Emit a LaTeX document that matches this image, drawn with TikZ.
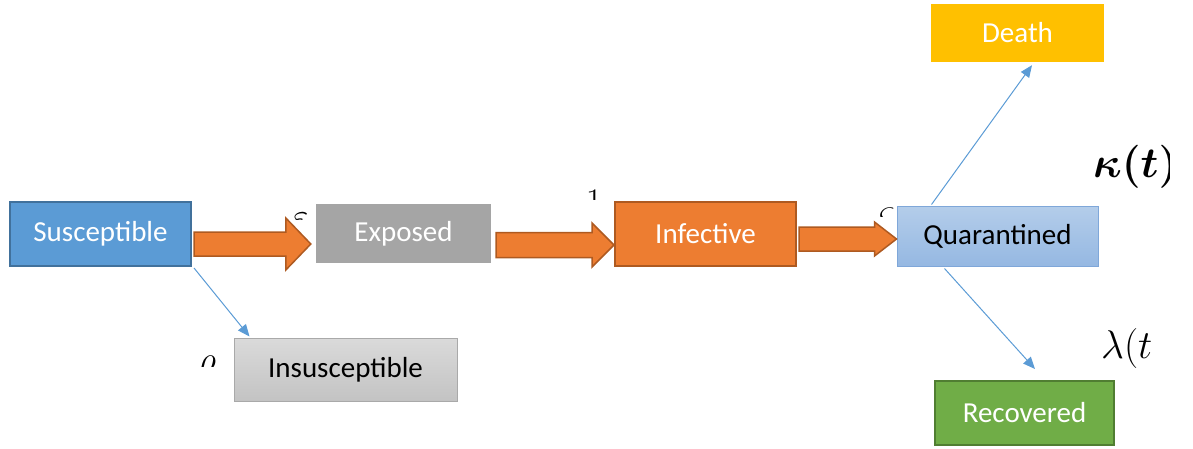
\RequirePackage{fix-cm}
\documentclass[tikz,border=0pt]{standalone}
\usepackage{fontspec}
\setmainfont{Carlito}
\usepackage{bm}
\usetikzlibrary{arrows.meta,calc}
\definecolor{sblue}{HTML}{5B9BD5}
\definecolor{sbluedk}{HTML}{41719C}
\definecolor{egray}{HTML}{A5A5A5}
\definecolor{iorange}{HTML}{ED7D31}
\definecolor{iorangedk}{HTML}{AE5A21}
\definecolor{qtop}{HTML}{B4CDEA}
\definecolor{qbot}{HTML}{95B8E2}
\definecolor{qborder}{HTML}{7FA7D9}
\definecolor{dgold}{HTML}{FFC000}
\definecolor{ntop}{HTML}{DADADA}
\definecolor{nbot}{HTML}{C3C3C3}
\definecolor{nborder}{HTML}{A9A9A9}
\definecolor{rgreen}{HTML}{70AD47}
\definecolor{rgreendk}{HTML}{507E32}
\tikzset{
  box/.style={rectangle, inner sep=0pt, font=\fontsize{29}{33}\selectfont, text=white},
  linkarrow/.style={draw=sblue, line width=1pt, -{Triangle[length=12pt,width=10pt]}},
  blockarrow/.style={fill=iorange, draw=iorangedk, line width=1.5pt, line join=miter},
  frag/.style={inner sep=0pt, font=\fontsize{36}{36}\selectfont},
}
\newcommand\barrow[8]{% from, to, start gap, tip gap, centre offset, shaft half, head half, head length
  \draw[blockarrow] let \p1=(#1.east), \p2=(#2.west) in
    ({\x1+#3},{\y1+(#5)+#6}) -- ({\x2-(#4)-#8},{\y1+(#5)+#6}) -- ({\x2-(#4)-#8},{\y1+(#5)+#7})
    -- ({\x2-(#4)},{\y1+(#5)}) -- ({\x2-(#4)-#8},{\y1+(#5)-#7}) -- ({\x2-(#4)-#8},{\y1+(#5)-#6})
    -- ({\x1+#3},{\y1+(#5)-#6}) -- cycle;}
\begin{document}
\begin{tikzpicture}[x=1pt,y=-1pt]
\useasboundingbox (0,0) rectangle (1193,449);
% boxes
\node[box, fill=sblue, draw=sbluedk, line width=2pt, minimum width=181pt, minimum height=64pt] (S) at (100.5,234) {Susceptible};
\node[box, fill=egray, minimum width=175pt, minimum height=59pt] (E) at (403.5,233.5) {Exposed};
\node[box, fill=iorange, draw=iorangedk, line width=2pt, minimum width=181pt, minimum height=64pt] (I) at (705.5,234) {Infective};
\node[box, top color=qtop, bottom color=qbot, draw=qborder, line width=1pt, text=black, minimum width=201pt, minimum height=60pt] (Q) at (997.5,236) {Quarantined};
\node[box, fill=dgold, minimum width=173pt, minimum height=58pt] (D) at (1017.5,33) {Death};
\node[box, top color=ntop, bottom color=nbot, draw=nborder, line width=1pt, text=black, minimum width=223pt, minimum height=63pt] (N) at (345.5,369.5) {Insusceptible};
\node[box, fill=rgreen, draw=rgreendk, line width=2pt, minimum width=179pt, minimum height=64pt] (R) at (1024.5,413) {Recovered};
% block arrows
\barrow{S}{E}{2pt}{5pt}{-10pt}{12pt}{26pt}{25pt}
\barrow{E}{I}{5pt}{0pt}{-11.5pt}{12.5pt}{22pt}{22pt}
\barrow{I}{Q}{2pt}{0pt}{-5pt}{12pt}{17pt}{22pt}
% thin arrows
\draw[linkarrow] ($(S.south east)+(2,1)$) -- ($(N.north west)+(16,-1)$);
\draw[linkarrow] ($(Q.north west)+(35,-1)$) -- ($(D.south)+(14.5,3)$);
\draw[linkarrow] ($(Q.south west)+(48,2)$) -- ($(R.north)+(10.5,-11)$);
% clipped rate labels
\begin{scope}
  \clip (285,200) rectangle (312,219);
  \node[frag] (f1) at (300,221) {$\varepsilon$};
\end{scope}
\begin{scope}
  \clip (582,180) rectangle (605,199);
  \node[frag] (f2) at (594,202) {$1$};
\end{scope}
\begin{scope}
  \clip (876,198) rectangle (895,216);
  \node[frag] (f3) at (887,217) {$\varsigma$};
\end{scope}
\begin{scope}
  \clip (193,350) rectangle (220,366);
  \node[frag] (f4) at (207,367) {$\rho$};
\end{scope}
\begin{scope}
  \clip (1085,140) rectangle (1169,200);
  \node[inner sep=0pt, anchor=base west, font=\fontsize{43}{43}\selectfont] (kappa) at (1093,178) {$\bm{\kappa(t)}$};
\end{scope}
\begin{scope}
  \clip (1090,320) rectangle (1152,375);
  \node[inner sep=0pt, anchor=base west, font=\fontsize{40}{40}\selectfont] (lambda) at (1101,358) {$\lambda(t)$};
\end{scope}
\end{tikzpicture}
\end{document}
